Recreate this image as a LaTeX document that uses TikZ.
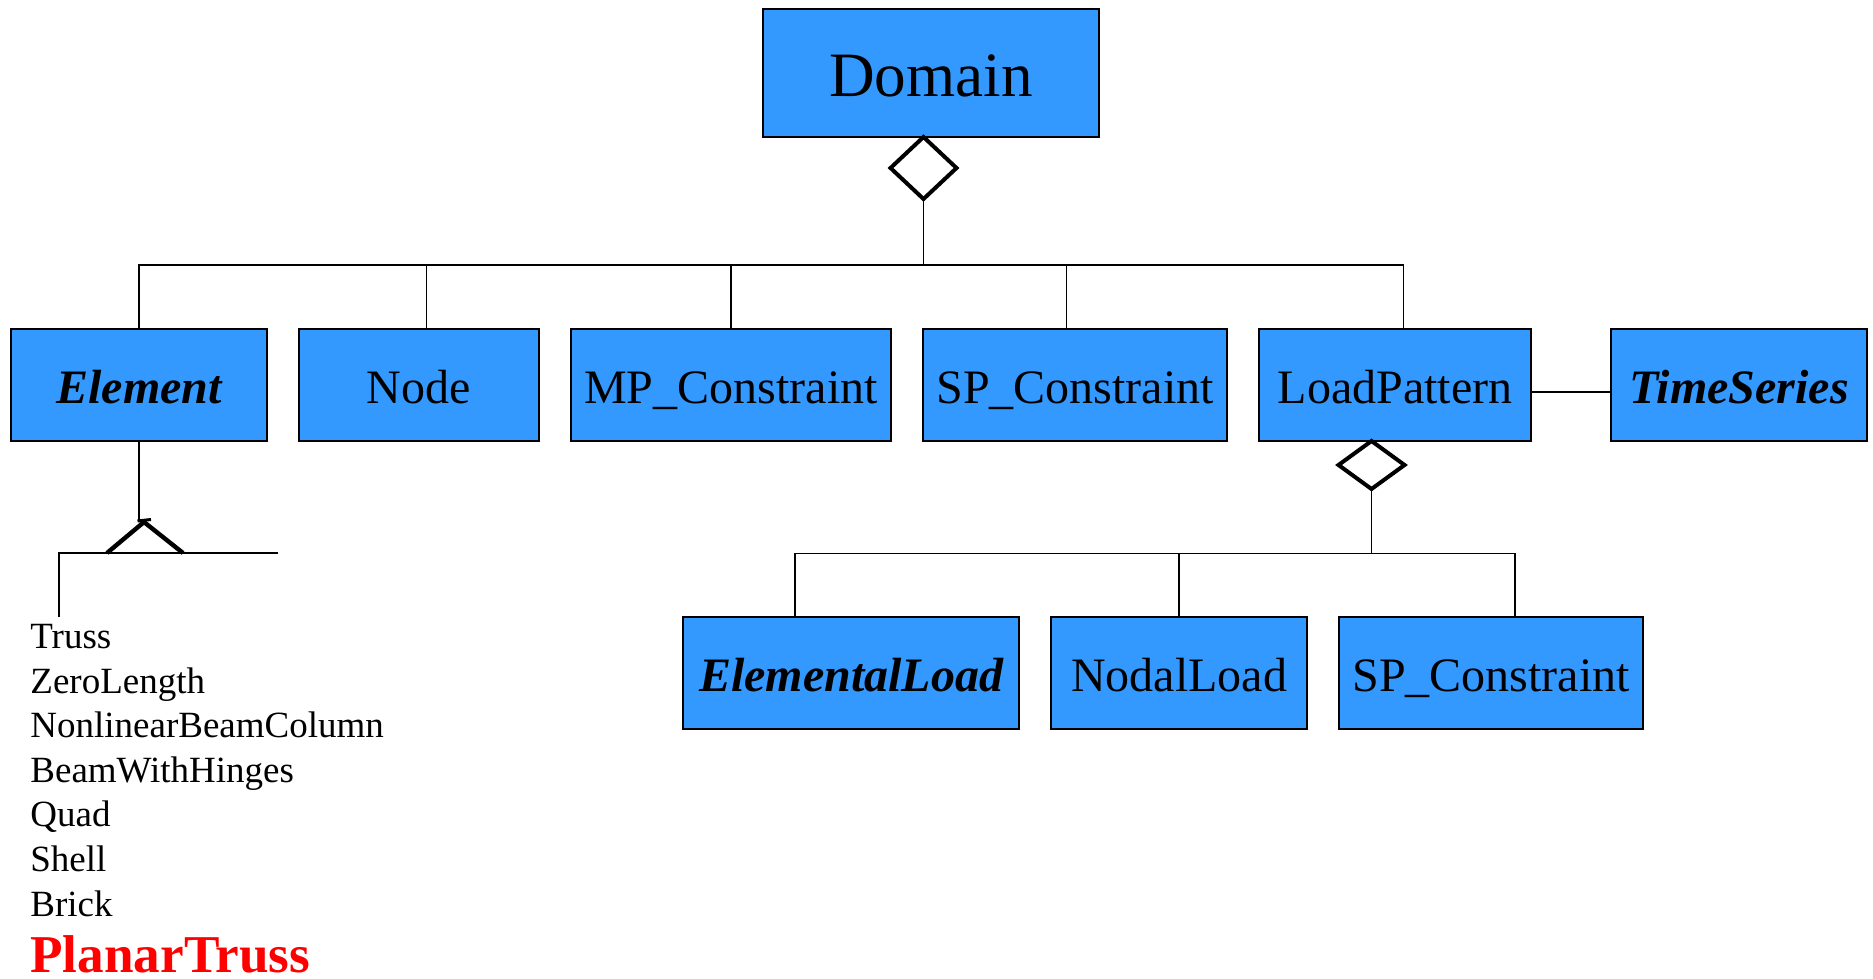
\documentclass[tikz,border=0pt]{standalone}
\usepackage{fontspec}
\setmainfont{Liberation Serif}
\usetikzlibrary{shapes.geometric}
\definecolor{classblue}{HTML}{3399FF}
\definecolor{subred}{HTML}{FF0000}

\begin{document}
\begin{tikzpicture}[x=0.5pt,y=-0.5pt,
  classbox/.style={draw=black, line width=1pt, fill=classblue, inner sep=0pt, outer sep=0pt,
    text height=18.4pt, text depth=0pt, font=\fontsize{24pt}{28pt}\selectfont},
  abstract/.style={font=\fontsize{24pt}{28pt}\selectfont\bfseries\itshape},
  link/.style={draw=black, line width=0.7pt},
  aggr/.style={diamond, draw=black, line width=2pt, fill=white, inner sep=0pt, outer sep=0pt,
    minimum width=33pt, anchor=north},
  heavy/.style={draw=black, line width=2.2pt},
  subclass/.style={anchor=base west, inner sep=0pt, font=\fontsize{18.5pt}{22pt}\selectfont}
]
\useasboundingbox (0,0) rectangle (1873,979);

% --- classes ---
\node[classbox, minimum width=168pt, minimum height=64pt, text height=23.7pt,
  font=\fontsize{31.6pt}{36pt}\selectfont] (Domain) at (931,73) {Domain};

\node[classbox, abstract, minimum width=128pt, minimum height=56pt] (Element) at (139,385) {Element};
\node[classbox, minimum width=120pt, minimum height=56pt] (Node) at (418.7,385) {Node};
\node[classbox, minimum width=160pt, minimum height=56pt] (MPC) at (731,385) {MP\_Constraint};
\node[classbox, minimum width=152pt, minimum height=56pt] (SPC) at (1075,385) {SP\_Constraint};
\node[classbox, minimum width=136pt, minimum height=56pt] (LoadPattern) at (1395,385) {LoadPattern};
\node[classbox, abstract, minimum width=128pt, minimum height=56pt] (TimeSeries) at (1739,385) {TimeSeries};

\node[classbox, abstract, minimum width=168pt, minimum height=56pt] (ElementalLoad) at (851,673) {ElementalLoad};
\node[classbox, minimum width=128pt, minimum height=56pt] (NodalLoad) at (1179,673) {NodalLoad};
\node[classbox, minimum width=152pt, minimum height=56pt] (SPC2) at (1491,673) {SP\_Constraint};

% --- aggregation from Domain ---
\coordinate (dx) at (923.5,0);
\node[aggr, minimum height=31pt] (dd) at (Domain.south -| dx) {};
\coordinate (b1) at (139,265);
\coordinate (b2) at (426.5,265);
\coordinate (b3) at (731,265);
\coordinate (b4) at (1066.7,265);
\coordinate (b5) at (1403.3,265);
\draw[link] (dd.south) -- (dd.south |- b1);
\draw[link] (b1 |- Element.north) -- (b1) -- (b5) -- (b5 |- LoadPattern.north);
\draw[link] (b2) -- (b2 |- Node.north);
\draw[link] (b3) -- (b3 |- MPC.north);
\draw[link] (b4) -- (b4 |- SPC.north);

% --- association LoadPattern - TimeSeries ---
\draw[link] ([yshift=-3.5pt]LoadPattern.east) -- ([yshift=-3.5pt]TimeSeries.west);

% --- aggregation from LoadPattern ---
\coordinate (lx) at (1371.5,0);
\node[aggr, minimum height=24pt] (ld) at (LoadPattern.south -| lx) {};
\coordinate (c1) at (795,553.5);
\coordinate (c2) at (1179,553.5);
\coordinate (c3) at (1515,553.5);
\draw[link] (ld.south) -- (ld.south |- c1);
\draw[link] (c1 |- ElementalLoad.north) -- (c1) -- (c3) -- (c3 |- SPC2.north);
\draw[link] (c2) -- (c2 |- NodalLoad.north);

% --- inheritance below Element ---
\coordinate (estop) at (139,520);
\coordinate (apex) at (144,522);
\coordinate (tl) at (107,553);
\coordinate (tr) at (183,553);
\coordinate (gl) at (59,553);
\coordinate (gr) at (278,553);
\coordinate (gd) at (59,617);
\draw[link] (Element.south) -- (estop);
\draw[link] (gr) -- (gl) -- (gd);
\draw[heavy, line join=miter] (tl) -- (apex) -- (tr);
\draw[draw=black, line width=1.5pt] (137.5,521) -- (151,519.5);

% --- subclasses ---
\node[subclass] (truss) at (30,648) {Truss};
\node[subclass] (zerolength) at (30,693) {ZeroLength};
\node[subclass] (nlbc) at (30,737.5) {NonlinearBeamColumn};
\node[subclass] (bwh) at (30,782.3) {BeamWithHinges};
\node[subclass] (quad) at (30,826.8) {Quad};
\node[subclass] (shell) at (30,871.6) {Shell};
\node[subclass] (brick) at (30,916.3) {Brick};
\node[subclass, font=\fontsize{26.6pt}{30pt}\selectfont\bfseries, text=subred] (planar) at (30,972) {PlanarTruss};
\end{tikzpicture}
\end{document}
